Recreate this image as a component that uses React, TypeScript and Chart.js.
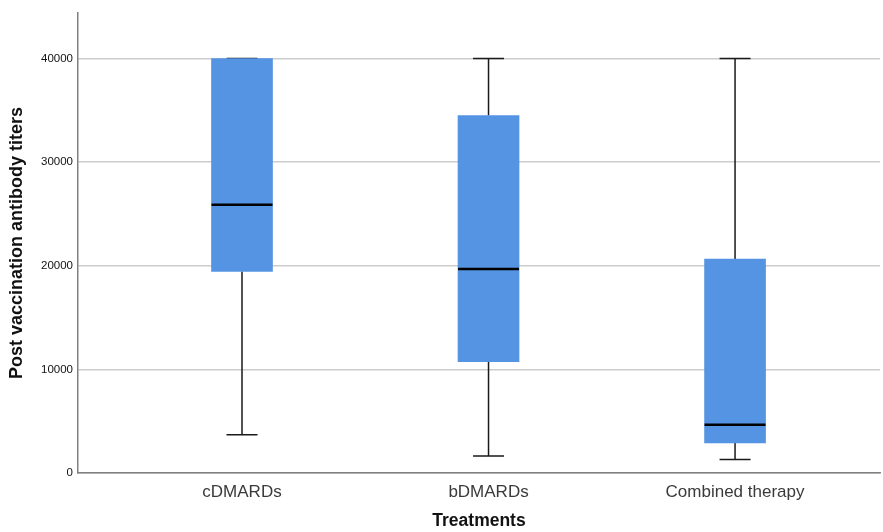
import React, { useEffect, useRef } from "react";
import { Chart, registerables } from "chart.js";

Chart.register(...registerables);

const categories = ["cDMARDs", "bDMARDs", "Combined therapy"];
const positions = [1, 2, 3];
const whiskerLow = [3700, 1650, 1300];
const q1 = [19450, 10750, 2900];
const median = [25900, 19700, 4650];
const q3 = [40000, 34500, 20650];
const whiskerHigh = [40000, 40000, 40000];
const yTicks = [0, 10000, 20000, 30000, 40000];

const BOX_COLOR = "#5594e3";
const FONT = "'Liberation Sans', Arial, sans-serif";

const boxPlugin = {
  id: "boxParts",
  beforeDatasetsDraw(chart: any) {
    const { ctx, scales } = chart;
    const xs = scales.x;
    const ys = scales.y;
    ctx.save();
    ctx.strokeStyle = "#1a1a1a";
    ctx.lineWidth = 1.5;
    positions.forEach((p, i) => {
      const x = xs.getPixelForValue(p);
      const yLo = ys.getPixelForValue(whiskerLow[i]);
      const yHi = ys.getPixelForValue(whiskerHigh[i]);
      const yQ1 = ys.getPixelForValue(q1[i]);
      const yQ3 = ys.getPixelForValue(q3[i]);
      ctx.beginPath();
      ctx.moveTo(x, yLo);
      ctx.lineTo(x, yQ1);
      ctx.moveTo(x, yQ3);
      ctx.lineTo(x, yHi);
      ctx.moveTo(x - 15.5, yLo);
      ctx.lineTo(x + 15.5, yLo);
      ctx.moveTo(x - 15.5, yHi);
      ctx.lineTo(x + 15.5, yHi);
      ctx.stroke();
    });
    ctx.restore();
  },
  afterDatasetsDraw(chart: any) {
    const { ctx, scales } = chart;
    const xs = scales.x;
    const ys = scales.y;
    ctx.save();
    ctx.strokeStyle = "#000000";
    ctx.lineWidth = 2.5;
    positions.forEach((p, i) => {
      const x = xs.getPixelForValue(p);
      const y = ys.getPixelForValue(median[i]);
      ctx.beginPath();
      ctx.moveTo(x - 30.5, y);
      ctx.lineTo(x + 30.5, y);
      ctx.stroke();
    });
    ctx.restore();
  },
};

export default function App() {
  const ref = useRef<HTMLCanvasElement>(null);

  useEffect(() => {
    if (!ref.current) return;
    const chart = new Chart(ref.current, {
      type: "bar",
      data: {
        datasets: [
          {
            data: positions.map((p, i) => ({ x: p, y: [q1[i], q3[i]] })) as any,
            backgroundColor: BOX_COLOR,
            borderWidth: 0,
            barThickness: 61,
          },
        ],
      },
      plugins: [boxPlugin],
      options: {
        animation: false,
        responsive: false,
        layout: { padding: { top: 13, right: 3, left: 0, bottom: 0 } },
        plugins: {
          legend: { display: false },
          tooltip: { enabled: false },
        },
        scales: {
          x: {
            type: "linear",
            offset: false,
            min: 0.3347,
            max: 3.588,
            afterBuildTicks: (s: any) => {
              s.ticks = positions.map((v) => ({ value: v }));
            },
            afterFit: (s: any) => {
              s.height = 59;
            },
            ticks: {
              autoSkip: false,
              maxRotation: 0,
              padding: 9,
              color: "#3a3a3a",
              font: { family: FONT, size: 17 },
              callback: (v: any) => {
                const idx = positions.indexOf(Number(v));
                return idx >= 0 ? categories[idx] : "";
              },
            },
            grid: { display: false, drawTicks: false, offset: false },
            border: { display: true, color: "#808080", width: 1.5 },
            title: {
              display: true,
              text: "Treatments",
              color: "#111111",
              font: { family: FONT, size: 17.5, weight: "bold" },
              padding: { top: 0, bottom: 0 },
            },
          },
          y: {
            type: "linear",
            min: 0,
            max: 44400,
            afterBuildTicks: (s: any) => {
              s.ticks = yTicks.map((v) => ({ value: v }));
            },
            afterFit: (s: any) => {
              s.width = 78;
            },
            ticks: {
              padding: 5,
              color: "#111111",
              font: { family: FONT, size: 11.5 },
              callback: (v: any) => String(v),
            },
            grid: {
              color: "#cccccc",
              lineWidth: 1.5,
              drawTicks: false,
            },
            border: { display: true, color: "#808080", width: 1.5 },
            title: {
              display: true,
              text: "Post vaccination antibody titers",
              color: "#111111",
              font: { family: FONT, size: 18, weight: "bold" },
              padding: { top: 6, bottom: 0 },
            },
          },
        },
      },
    });
    return () => chart.destroy();
  }, []);

  return (
    <div style={{ position: "absolute", left: 0, top: 0, width: 883, height: 532, background: "#ffffff" }}>
      <canvas ref={ref} width={883} height={532} />
    </div>
  );
}
